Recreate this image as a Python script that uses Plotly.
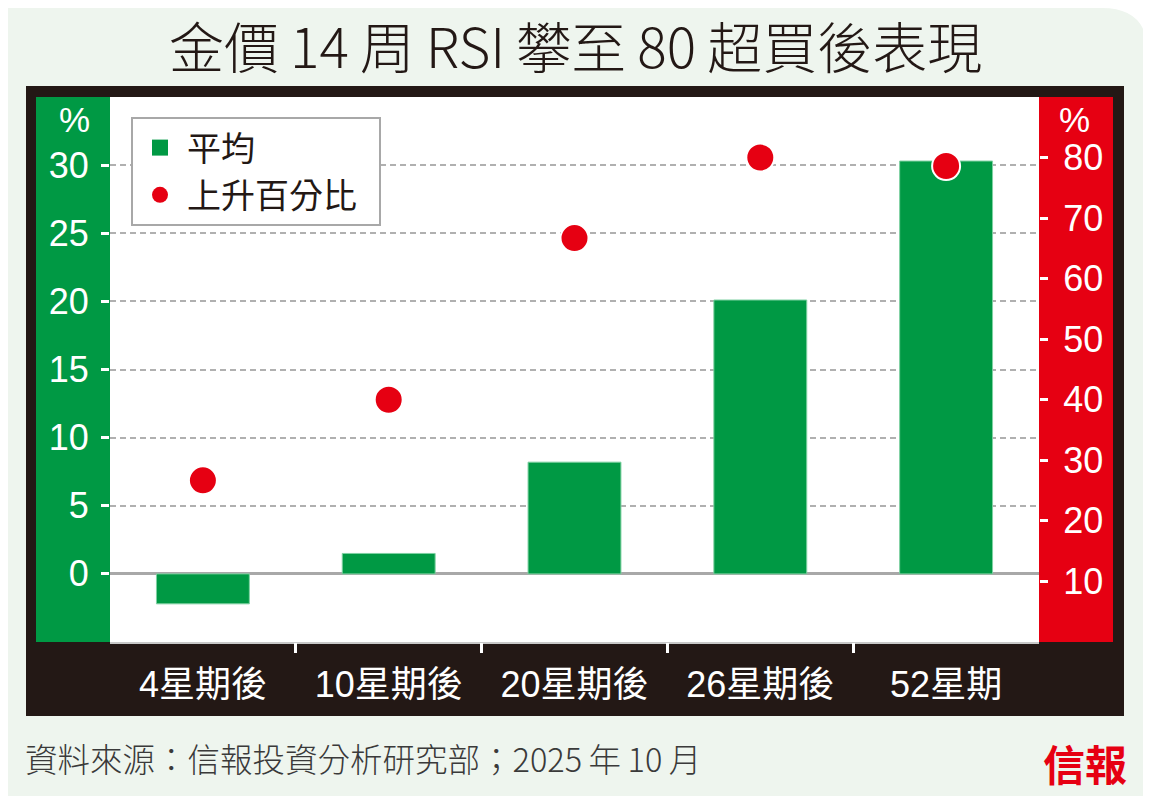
import plotly.graph_objects as go

# data
periods = ["4星期後", "10星期後", "20星期後", "26星期後", "52星期"]
avg_change = [-2.2, 1.5, 8.2, 20.1, 30.3]     # 平均 (%), left axis
up_ratio = [26.7, 40.0, 66.7, 80.0, 78.6]     # 上升百分比 (%), right axis
left_ticks = [0, 5, 10, 15, 20, 25, 30]
right_ticks = [10, 20, 30, 40, 50, 60, 70, 80]
boundaries = [0.5, 1.5, 2.5, 3.5]

# the page body has an 8px margin, so the figure starts at (8, 8) in the window
OFF = 8
WIN_W, WIN_H = 1151, 796
W, H = WIN_W - OFF, WIN_H - OFF
PL, PR, PT, PB = 110, 1039, 97, 642   # plot area, window pixels

GREEN = "#009944"
RED = "#e60012"
DARK = "#231815"
BG = "#eef5ee"
NUM_FONT = "Liberation Sans, Arial"
CJK_FONT = "Noto Sans CJK TC"


# window pixel -> paper coords
def px(x):
    return (x - PL) / (PR - PL)


def py(y):
    return (PB - y) / (PB - PT)


def rect(x0, y0, x1, y1, color):
    return dict(type="rect", xref="paper", yref="paper", layer="below",
                x0=px(x0), x1=px(x1), y0=py(y1), y1=py(y0),
                fillcolor=color, line=dict(width=0))


def label(text, x, y, size, color, family=CJK_FONT, xanchor="center",
          weight="normal"):
    return dict(text=text, x=px(x), y=py(y), xref="paper", yref="paper",
                xanchor=xanchor, yanchor="middle", showarrow=False,
                font=dict(family=family, size=size, color=color,
                          weight=weight))


fig = go.Figure()

fig.add_trace(go.Bar(
    x=periods, y=avg_change, name="平均", showlegend=False,
    marker=dict(color=GREEN, line=dict(color="#7fd1a2", width=1)),
    hoverinfo="skip",
))
fig.add_trace(go.Scatter(
    x=periods, y=up_ratio, name="上升百分比", yaxis="y2", mode="markers",
    marker=dict(color=RED, size=28, line=dict(color="white", width=2)),
    showlegend=False, hoverinfo="skip",
))
# legend entries (bigger symbols than the bar legend swatch)
fig.add_trace(go.Scatter(
    x=[None], y=[None], name="平均", mode="markers",
    marker=dict(color=GREEN, symbol="square", size=16), hoverinfo="skip",
))
fig.add_trace(go.Scatter(
    x=[None], y=[None], name="上升百分比\u2002", mode="markers", yaxis="y2",
    marker=dict(color=RED, symbol="circle", size=16), hoverinfo="skip",
))
# carrier for the category separator ticks
fig.add_trace(go.Scatter(x=[None], y=[None], xaxis="x2", showlegend=False,
                         hoverinfo="skip"))

# background card with rounded top-right corner
r = 46
bx0, by0, bx1, by1 = OFF, OFF, 1148, WIN_H
path = (f"M {px(bx0)},{py(by0)} L {px(bx1 - r)},{py(by0)} "
        f"Q {px(bx1)},{py(by0)} {px(bx1)},{py(by0 + r)} "
        f"L {px(bx1)},{py(by1)} L {px(bx0)},{py(by1)} Z")

shapes = [
    dict(type="path", path=path, xref="paper", yref="paper", layer="below",
         fillcolor=BG, line=dict(width=0)),
    rect(26, 86, 1124, 716, DARK),
    rect(36, 97, PL, PB, GREEN),
    rect(PR, 97, 1113, PB, RED),
    rect(PL, PT, PR, PB, "white"),
]

annotations = [
    label("金價\u200914\u2009周\u2009RSI\u2009攀至\u200980\u2009超買後表現",
          575, 44, 55, DARK, weight=300),
    label("%", 74, 120, 35, "white", NUM_FONT),
    label("%", 1074, 120, 35, "white", NUM_FONT),
    label("資料來源：信報投資分析研究部；2025\u2009年\u200910\u2009月",
          23, 757, 32.5, "#3a3a3a", xanchor="left", weight=300),
    label("<b>信報</b>", 1085, 762, 42, RED),
]

fig.update_layout(
    width=W, height=H,
    margin=dict(l=PL - OFF, r=WIN_W - PR, t=PT - OFF, b=WIN_H - PB, pad=0),
    paper_bgcolor="white", plot_bgcolor="white",
    showlegend=True,
    legend=dict(x=px(131), y=py(117), xanchor="left", yanchor="top",
                bgcolor="white", bordercolor="#a8a8a8", borderwidth=2,
                font=dict(family=CJK_FONT, size=34, color=DARK),
                tracegroupgap=0, itemsizing="trace", itemwidth=44),
    bargap=0.5,
    xaxis=dict(type="category", range=[-0.5, 4.5], ticks="",
               tickfont=dict(family="Liberation Sans, " + CJK_FONT, size=36,
                             color="white"),
               ticklabelstandoff=10,
               showline=True, linecolor="#c8c8c8", linewidth=2,
               showgrid=False),
    xaxis2=dict(type="linear", overlaying="x", anchor="y", side="bottom",
                range=[-0.5, 4.5], tickvals=boundaries, ticks="outside",
                ticklen=10, tickwidth=2.5, tickcolor="white",
                showticklabels=False, showgrid=False, zeroline=False,
                showline=False),
    yaxis=dict(range=[-5, 35], tickvals=left_ticks, ticks="outside",
               ticklen=8, tickwidth=3, tickcolor="white",
               tickfont=dict(family=NUM_FONT, size=36, color="white"),
               ticklabelstandoff=5,
               showgrid=True, gridcolor="#b0b0b0", gridwidth=1.5,
               griddash="6px,4px",
               zeroline=True, zerolinecolor="#a8a8a8", zerolinewidth=2.5,
               showline=False),
    yaxis2=dict(range=[0, 90], tickvals=right_ticks, overlaying="y",
                side="right", ticks="outside", ticklen=8, tickwidth=3,
                tickcolor="white",
                tickfont=dict(family=NUM_FONT, size=36, color="white"),
                ticklabelstandoff=8,
                showgrid=False, zeroline=False, showline=False),
    shapes=shapes,
    annotations=annotations,
)

fig.write_html("out.html")
